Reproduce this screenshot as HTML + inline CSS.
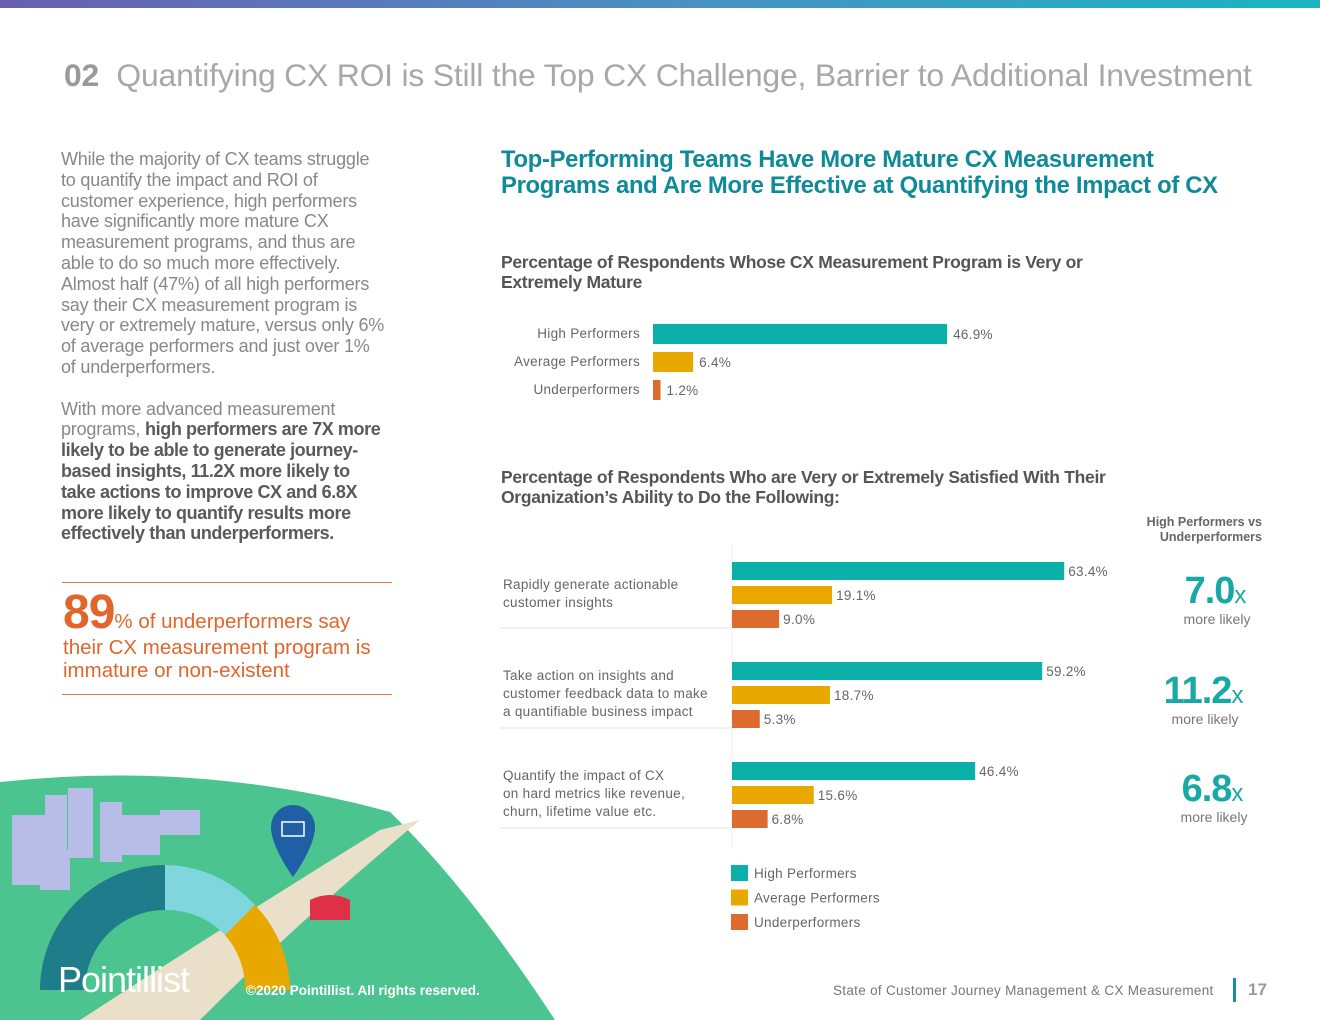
<!DOCTYPE html>
<html><head><meta charset="utf-8">
<style>
*{margin:0;padding:0;box-sizing:border-box}
body{width:1320px;height:1020px;position:relative;background:#fff;font-family:"Liberation Sans",sans-serif;overflow:hidden;color:#666}
.abs{position:absolute}
.body-text{left:61px;top:149px;white-space:nowrap;font-size:18px;line-height:20.8px;color:#888;letter-spacing:-0.2px}
.body-text b{color:#5a5a5a;letter-spacing:-0.4px}
h2.t{left:501px;top:147px;font-size:23.8px;line-height:26px;color:#0f8a99;font-weight:bold;letter-spacing:-0.3px;white-space:nowrap}
.sub{left:501px;font-size:17.5px;line-height:20px;color:#555;font-weight:bold;letter-spacing:-0.3px;white-space:nowrap}
.mult{font-size:38px;font-weight:bold;color:#18a9a5;text-align:center;width:120px;letter-spacing:-1px}
.mult span{font-size:24px;font-weight:normal}
.ml{font-size:14px;color:#777;text-align:center;width:120px}
</style></head><body>
<div class="abs" style="left:0;top:0;width:1320px;height:8px;background:linear-gradient(90deg,#6a5fb0,#4b8fc2 50%,#19b5c0)"></div>
<div class="abs" style="left:64px;top:57px;font-size:31.9px;color:#a8a8a8;letter-spacing:-0.2px;white-space:nowrap"><b style="color:#9a9a9a">02</b>&nbsp; Quantifying CX ROI is Still the Top CX Challenge, Barrier to Additional Investment</div>

<div class="abs body-text">While the majority of CX teams struggle<br>to quantify the impact and ROI of<br>customer experience, high performers<br>have significantly more mature CX<br>measurement programs, and thus are<br>able to do so much more effectively.<br>Almost half (47%) of all high performers<br>say their CX measurement program is<br>very or extremely mature, versus only 6%<br>of average performers and just over 1%<br>of underperformers.<br><br>With more advanced measurement<br>programs, <b>high performers are 7X more<br>likely to be able to generate journey-<br>based insights, 11.2X more likely to<br>take actions to improve CX and 6.8X<br>more likely to quantify results more<br>effectively than underperformers.</b></div>

<div class="abs" style="left:62px;top:582px;width:330px;height:1px;background:#e07a4a"></div>
<div class="abs" style="left:63px;top:590px;width:330px;font-size:20.5px;line-height:23px;color:#e0662c"><b style="font-size:48px;line-height:46px;letter-spacing:-1px">89</b>% of underperformers say their CX measurement program is immature or non-existent</div>
<div class="abs" style="left:62px;top:694px;width:330px;height:1px;background:#e07a4a"></div>

<h2 class="abs t">Top-Performing Teams Have More Mature CX Measurement<br>Programs and Are More Effective at Quantifying the Impact of CX</h2>
<div class="abs sub" style="top:252px">Percentage of Respondents Whose CX Measurement Program is Very or<br>Extremely Mature</div>
<div class="abs sub" style="top:467px">Percentage of Respondents Who are Very or Extremely Satisfied With Their<br>Organization’s Ability to Do the Following:</div>
<div class="abs" style="left:1120px;top:515px;width:142px;text-align:right;font-size:12.5px;line-height:15px;font-weight:bold;color:#666">High Performers vs<br>Underperformers</div>

<div class="abs mult" style="left:1155px;top:570px">7.0<span>x</span></div>
<div class="abs ml" style="left:1157px;top:611px">more likely</div>
<div class="abs mult" style="left:1143px;top:670px">11.2<span>x</span></div>
<div class="abs ml" style="left:1145px;top:711px">more likely</div>
<div class="abs mult" style="left:1152px;top:768px">6.8<span>x</span></div>
<div class="abs ml" style="left:1154px;top:809px">more likely</div>

<svg class="abs" style="left:0;top:0" width="1320" height="1020" id="charts"></svg>

<svg class="abs" style="left:0;top:760px" width="560" height="260">
<path d="M0 22 Q200 0 390 52 Q470 130 555 260 L0 260Z" fill="#4cc490"/>
<path d="M80 260 Q250 150 380 70 L420 60 Q300 160 200 260Z" fill="#eadfc8"/>
<g fill="#b8bde8"><rect x="12" y="55" width="40" height="70"/><rect x="45" y="35" width="22" height="80"/><rect x="68" y="28" width="25" height="70"/><rect x="40" y="90" width="30" height="40"/><rect x="100" y="42" width="22" height="60"/><rect x="120" y="55" width="40" height="40"/><rect x="160" y="50" width="40" height="25"/></g>
<path d="M40 230 A125 125 0 0 1 165 105 L165 150 A80 80 0 0 0 85 230Z" fill="#1f7c8a"/>
<path d="M165 105 A125 125 0 0 1 255 145 L225 175 A80 80 0 0 0 165 150Z" fill="#7fd6dc"/>
<path d="M255 145 A125 125 0 0 1 290 230 L245 230 A80 80 0 0 0 225 175Z" fill="#e8a800"/>
<path d="M293 45 a22 22 0 0 1 22 22 c0 20 -22 50 -22 50 c0 0 -22 -30 -22 -50 a22 22 0 0 1 22 -22z" fill="#1e5fa5"/>
<rect x="282" y="62" width="22" height="14" fill="none" stroke="#fff" stroke-width="1.5"/>
<path d="M310 140 q20 -10 40 0 v20 h-40z" fill="#e03048"/>
<text x="58" y="232" font-family="Liberation Sans" font-size="36" fill="#fff" letter-spacing="-1">Pointillist</text>
<text x="246" y="235" font-family="Liberation Sans" font-size="13.5" font-weight="bold" fill="#fff">©2020 Pointillist. All rights reserved.</text>
</svg>

<div class="abs" style="left:833px;top:983px;font-size:13.5px;color:#777;letter-spacing:0.3px">State of Customer Journey Management &amp; CX Measurement</div>
<div class="abs" style="left:1233px;top:978px;width:3px;height:24px;background:#1a8fa0"></div>
<div class="abs" style="left:1248px;top:980px;font-size:17px;font-weight:bold;color:#999">17</div>

<script>
const c1Cats=["High Performers","Average Performers","Underperformers"];
const c1Vals=[46.9,6.4,1.2];
const c2Cats=[["Rapidly generate actionable","customer insights"],["Take action on insights and","customer feedback data to make","a quantifiable business impact"],["Quantify the impact of CX","on hard metrics like revenue,","churn,  lifetime value etc."]];
const c2High=[63.4,59.2,46.4];
const c2Avg=[19.1,18.7,15.6];
const c2Under=[9.0,5.3,6.8];
const seriesNames=["High Performers","Average Performers","Underperformers"];
const colors=["#0bb0a8","#e9a800","#dd6a2e"];
const svg=document.getElementById('charts');
const NS="http://www.w3.org/2000/svg";
function mk(t,a,p){const e=document.createElementNS(NS,t);for(const k in a)e.setAttribute(k,a[k]);(p||svg).appendChild(e);return e;}
function txt(x,y,s,o){const e=mk('text',Object.assign({x:x,y:y,'font-family':'Liberation Sans','font-size':13.5,fill:'#666','letter-spacing':'0.3'},o||{}));e.textContent=s;return e;}
// chart 1
const x1=v=>v*6.27, x1o=653;
c1Cats.forEach((c,i)=>{
  const y=324+i*28;
  const r=mk('rect',{x:x1o,y:y,width:x1(c1Vals[i]),height:20,fill:colors[i]});
  
  
  const l=txt(640,y+14,c,{'text-anchor':'end'});
  
  
  const v=txt(x1o+x1(c1Vals[i])+6,y+15,c1Vals[i].toFixed(1)+'%');
  
  
});
// chart 2
const x2=v=>v*5.24, x2o=732;
const ax=mk('line',{x1:732,y1:545,x2:732,y2:848,stroke:'#eee'});


const sets=[c2High,c2Avg,c2Under];
c2Cats.forEach((lines,g)=>{
  const gy=562+g*100;
  sets.forEach((s,k)=>{
    const y=gy+k*24;
    const r=mk('rect',{x:x2o,y:y,width:x2(s[g]),height:18,fill:colors[k]});
    
    
    const v=txt(x2o+x2(s[g])+4,y+14,s[g].toFixed(1)+'%');
    
    
  });
  const n=lines.length, top=gy+(n===2?27:18);
  lines.forEach((ln,j)=>{const t=txt(503,top+j*18,ln);
    
    });
  const sep=mk('line',{x1:500,y1:gy+66,x2:732,y2:gy+66,stroke:'#e3e3e3'});
  
  
});
seriesNames.forEach((s,i)=>{
  const y=865+i*24.5;
  const r=mk('rect',{x:731,y:y,width:17,height:16,fill:colors[i]});
  
  
  const t=txt(754,y+13,s);
  
  
});
</script>
</body></html>
